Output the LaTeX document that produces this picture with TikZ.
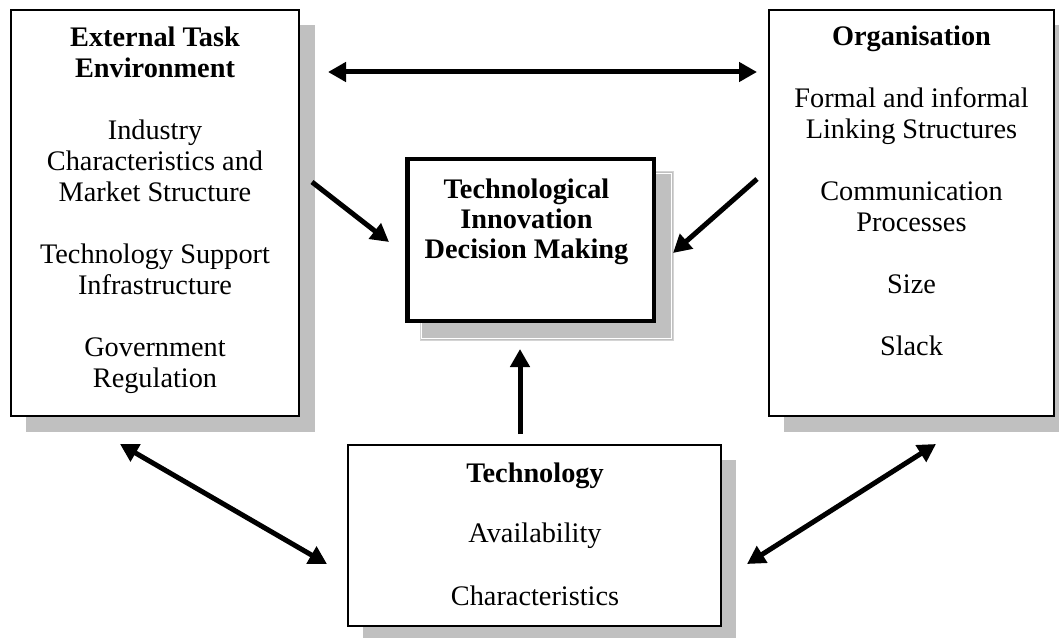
\documentclass[tikz,border=0pt]{standalone}
\usepackage{fontspec}
\setmainfont{Liberation Serif}
\usetikzlibrary{arrows.meta}
\definecolor{shade}{HTML}{C0C0C0}
\definecolor{shadeedge}{HTML}{D4D4D4}
\tikzset{
  box/.style={draw=black, fill=white, line width=2pt, inner sep=0pt, outer sep=0pt, anchor=north west},
  shadowbox/.style={fill=shade, draw=none, inner sep=0pt, outer sep=0pt, anchor=north west},
  txt/.style={align=center, inner sep=0pt, anchor=north, font=\fontsize{28.3}{31}\selectfont},
  arr/.style={line width=5pt, -{Triangle[length=18pt,width=19pt]}},
  darr/.style={line width=5pt, {Triangle[length=18pt,width=19pt]}-{Triangle[length=18pt,width=19pt]}},
}
\begin{document}
\begin{tikzpicture}[x=1pt,y=-1pt]
\useasboundingbox (0,0) rectangle (1059,639);
% shadows
\node[shadowbox, minimum width=289, minimum height=407] (extS) at (26,25) {};
\node[shadowbox, minimum width=275, minimum height=407] (orgS) at (784,25) {};
\node[shadowbox, draw=shadeedge, line width=1pt, minimum width=253, minimum height=168] (decS) at (420,172) {};
\draw[white, line width=1pt] (421.5,173.5) rectangle (671.5,338.5);
\node[shadowbox, minimum width=373, minimum height=178] (techS) at (363,460) {};
% boxes
\node[box, minimum width=288, minimum height=406] (ext) at (11,10) {};
\node[box, minimum width=285, minimum height=406] (org) at (769,10) {};
\node[box, line width=4.5pt, minimum width=246.5, minimum height=161.5] (dec) at (407.25,159.25) {};
\node[box, minimum width=373, minimum height=181] (tech) at (348,445) {};
% texts
\node[txt] (extT) at (155,26.7) {\textbf{External Task}\\\textbf{Environment}\\[31pt]Industry\\Characteristics and\\Market Structure\\[31pt]Technology Support\\Infrastructure\\[31pt]Government\\Regulation};
\node[txt] (orgT) at (911.5,25.5) {\textbf{Organisation}\\[31pt]Formal and informal\\Linking Structures\\[31pt]Communication\\Processes\\[31pt]Size\\[31pt]Slack};
\node[txt, font=\fontsize{28.3}{30}\selectfont\bfseries] (decT) at (526.5,178.8) {Technological\\Innovation\\Decision Making};
\node[txt] (techT) at (535,462.8) {\textbf{Technology}\\[29pt]Availability\\[32pt]Characteristics};
% arrows
\coordinate (a1) at (328,72);
\coordinate (a2) at (757,72);
\draw[darr] (a1) -- (a2);
\coordinate (b1) at (312,182);
\coordinate (b2) at (389,242);
\draw[arr] (b1) -- (b2);
\coordinate (c1) at (757,179);
\coordinate (c2) at (673,253);
\draw[arr] (c1) -- (c2);
\coordinate (d1) at (520,434);
\coordinate (d2) at (520,349);
\draw[arr] (d1) -- (d2);
\coordinate (e1) at (120,444);
\coordinate (e2) at (327,564);
\draw[darr] (e1) -- (e2);
\coordinate (f1) at (936,444);
\coordinate (f2) at (747,564);
\draw[darr] (f1) -- (f2);
\end{tikzpicture}
\end{document}
